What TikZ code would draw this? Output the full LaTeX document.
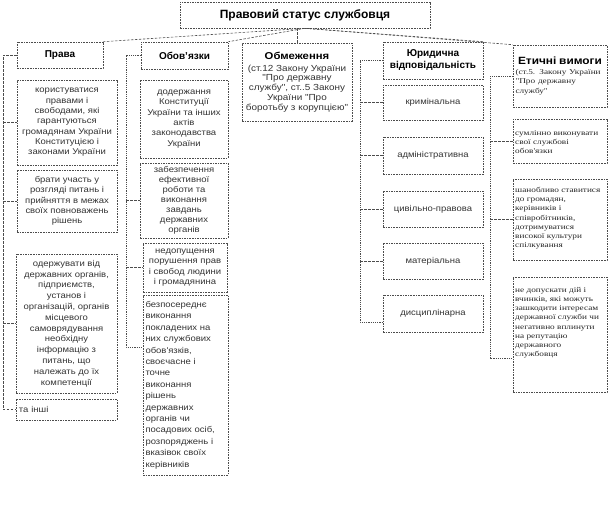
\documentclass[tikz,border=0pt]{standalone}
\usepackage{fontspec}
\setmainfont{Liberation Sans}
\newfontfamily\serifbody[FakeStretch=1.25]{Liberation Serif}
\newfontfamily\sansbody[FakeStretch=1.13]{Liberation Sans}
\begin{document}
\begin{tikzpicture}[x=1pt,y=-1pt,
  box/.style={draw=black!70, dash pattern=on 1.6pt off 1pt, line width=0.6pt, inner sep=0.5pt, align=center, text=black!80, font=\sansbody\fontsize{8.4}{10.3}\selectfont},
  headbox/.style={box, text=black, font=\bfseries\fontsize{10}{12}\selectfont},
  ebox/.style={draw=black!70, dash pattern=on 1.6pt off 1pt, line width=0.6pt, inner sep=0pt},
  etext/.style={anchor=north west, align=left, inner sep=0pt, text=black!85, font=\serifbody\fontsize{7.4}{9.2}\selectfont},
  link/.style={draw=black!70, dash pattern=on 2.5pt off 1.5pt, line width=0.6pt}]
\useasboundingbox (0,0) rectangle (608,528);

% title
\node[box, text=black, font=\bfseries\fontsize{12}{14}\selectfont, minimum width=250, minimum height=26] (title) at (305,15) {Правовий статус службовця};

% column 1
\node[headbox, minimum width=86, minimum height=26] (prava) at (60,55) {Права};
\node[box, minimum width=100, minimum height=85] (p1) at (67,122.5) {користуватися\\правами і\\свободами, які\\гарантуються\\громадянам України\\Конституцією і\\законами України};
\node[box, minimum width=100, minimum height=62] (p2) at (67,201) {брати участь у\\розгляді питань і\\прийняття в межах\\своїх повноважень\\рішень};
\node[box, minimum width=101, minimum height=139, font=\sansbody\fontsize{8.4}{10.8}\selectfont] (p3) at (66.5,323.5) {одержувати від\\державних органів,\\підприємств,\\установ і\\організацій, органів\\місцевого\\самоврядування\\необхідну\\інформацію з\\питань, що\\належать до їх\\компетенції};
\node[box, minimum width=101, minimum height=21, text width=95, align=left] (p4) at (66.5,409.5) {та інші};

% column 2
\node[headbox, minimum width=87, minimum height=27] (obl) at (184.5,55.5) {Обов'язки};
\node[box, minimum width=88, minimum height=78] (o1) at (184,119) {додержання\\Конституції\\України та інших\\актів\\законодавства\\України};
\node[box, minimum width=88, minimum height=75, font=\sansbody\fontsize{8.4}{10}\selectfont] (o2) at (184,200.5) {забезпечення\\ефективної\\роботи та\\виконання\\завдань\\державних\\органів};
\node[box, minimum width=84, minimum height=49] (o3) at (185,267.5) {недопущення\\порушення прав\\і свобод людини\\і громадянина};
\node[box, minimum width=85, minimum height=180, text width=80, align=left, font=\sansbody\fontsize{8.4}{11.4}\selectfont] (o4) at (185.5,385) {безпосереднє\\виконання\\покладених на\\них службових\\обов'язків,\\своєчасне і\\точне\\виконання\\рішень\\державних\\органів чи\\посадових осіб,\\розпоряджень і\\вказівок своїх\\керівників};

% column 3
\node[box, minimum width=110, minimum height=78, font=\sansbody\fontsize{8.8}{9.8}\selectfont] (obm) at (297,82) {{\bfseries\color{black}\fontsize{10}{13}\selectfont Обмеження}\\[2pt](ст.12 Закону України\\"Про державну\\службу", ст..5 Закону\\України "Про\\боротьбу з корупцією"};

% column 4
\node[headbox, minimum width=100, minimum height=37] (yur) at (433,60.5) {Юридична\\відповідальність};
\node[box, minimum width=100, minimum height=35] (y1) at (433,102.5) {кримінальна};
\node[box, minimum width=100, minimum height=37] (y2) at (433,155.5) {адміністративна};
\node[box, minimum width=100, minimum height=36] (y3) at (433,209) {цивільно-правова};
\node[box, minimum width=100, minimum height=36] (y4) at (433,261) {матеріальна};
\node[box, minimum width=100, minimum height=37] (y5) at (433,313.5) {дисциплінарна};

% column 5
\node[box, minimum width=94, minimum height=62, align=left, text width=89] (et) at (560,76) {\hfill{\bfseries\color{black}\fontsize{10.5}{13}\selectfont Етичні вимоги}\hfill\mbox{}\\[2pt]{\serifbody\fontsize{7.4}{8.8}\selectfont\color{black!85}\makebox[88pt][s]{(ст.5. Закону України}\\\makebox[88pt][s]{"Про державну}\\службу"}};
\node[ebox, minimum width=94, minimum height=44] (e1) at (560,141) {};
\node[etext] (e1t) at (515,130) {сумлінно виконувати\\свої службові\\обов'язки};
\node[ebox, minimum width=94, minimum height=81] (e2) at (560,219.5) {};
\node[etext] (e2t) at (515,187) {шанобливо ставитися\\до громадян,\\керівників і\\співробітників,\\дотримуватися\\високої культури\\спілкування};
\node[ebox, minimum width=94, minimum height=115] (e3) at (560,334.5) {};
\node[etext] (e3t) at (515,287) {не допускати дій і\\вчинків, які можуть\\зашкодити інтересам\\державної служби чи\\негативно вплинути\\на репутацію\\державного\\службовця};

% connectors from title
\coordinate (hub) at (title.south);
\draw[link] (hub) -- (prava.north east);
\draw[link] (hub) -- (obl.north east);
\draw[link] (hub -| obm.north) -- (obm.north);
\draw[link] (hub) -- (yur.north east);
\draw[link] (hub) -- (et.north west);

% column 1 spine
\coordinate (c1) at (3,0);
\draw[link] (prava.west) -- (prava.west -| c1) -- (p4.west -| c1) -- (p4.west);
\foreach \n in {p1,p2,p3} \draw[link] (\n.west -| c1) -- (\n.west);

% column 2 spine
\coordinate (c2) at (126,0);
\coordinate (o4in) at (143,347);
\draw[link, dash pattern=on 1.2pt off 1pt] (obl.west) -- (obl.west -| c2) -- (o4in -| c2) -- (o4in);
\foreach \n in {o2,o3} \draw[link] (\n.west -| c2) -- (\n.west);

% column 4 spine
\coordinate (c4) at (360,0);
\coordinate (y5in) at (383,322);
\draw[link, dash pattern=on 1.2pt off 1pt] (yur.west) -- (yur.west -| c4) -- (y5in -| c4) -- (y5in);
\foreach \n in {y1,y2,y3,y4} \draw[link] (\n.west -| c4) -- (\n.west);

% column 5 spine
\coordinate (c5) at (490,0);
\coordinate (e3in) at (513,358);
\draw[link, dash pattern=on 1.2pt off 1pt] (et.west) -- (et.west -| c5) -- (e3in -| c5) -- (e3in);
\foreach \n in {e1,e2} \draw[link] (\n.west -| c5) -- (\n.west);
\end{tikzpicture}
\end{document}
